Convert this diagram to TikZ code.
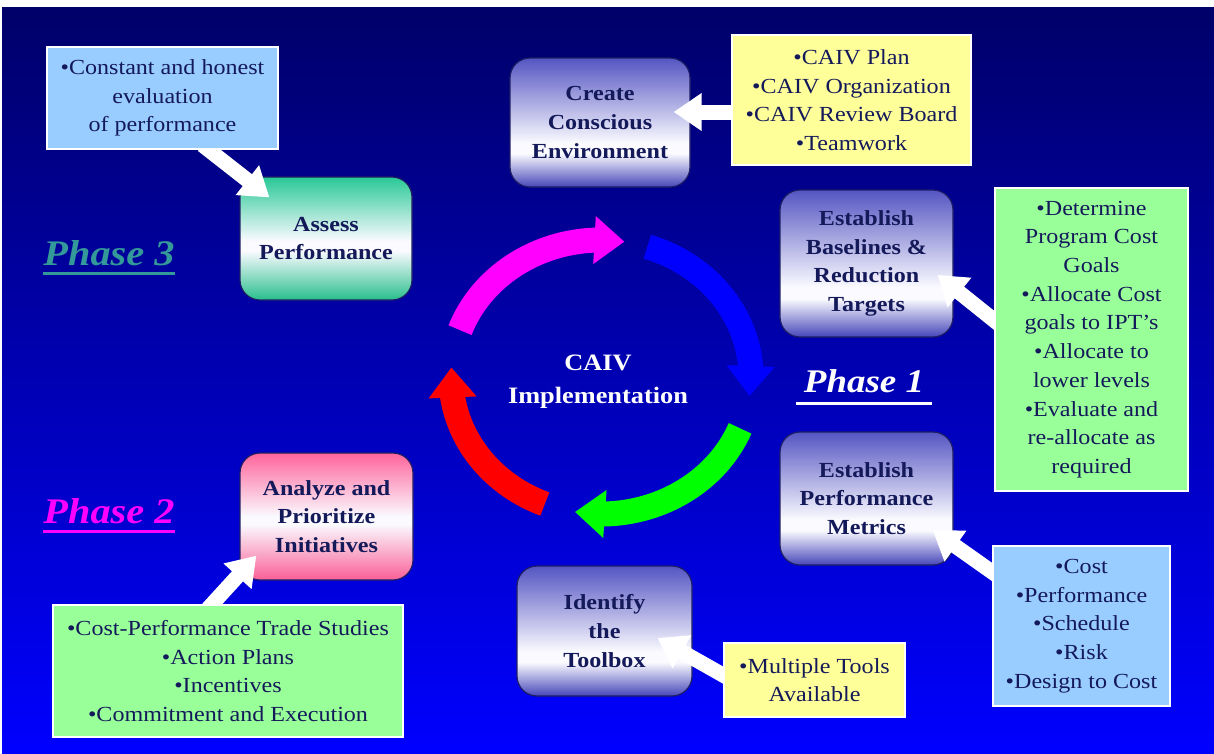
\documentclass[tikz,border=0pt]{standalone}
\usepackage{fontspec}
\setmainfont{Liberation Serif}[FakeStretch=1.12]
\usetikzlibrary{arrows.meta,calc,bending}
\definecolor{navytxt}{RGB}{20,25,90}
\definecolor{bgtop}{RGB}{0,0,105}
\definecolor{bgmid}{RGB}{0,0,205}
\definecolor{bgbot}{RGB}{0,0,255}
\definecolor{lblue}{RGB}{153,204,255}
\definecolor{lyellow}{RGB}{255,255,153}
\definecolor{lgreen}{RGB}{153,255,153}
\definecolor{bluetop}{RGB}{85,85,195}
\definecolor{bluebot}{RGB}{70,70,185}
\definecolor{pinktop}{RGB}{255,100,155}
\definecolor{pinkbot}{RGB}{250,95,150}
\definecolor{greentop}{RGB}{40,200,150}
\definecolor{greenbot}{RGB}{40,190,140}
\definecolor{peak}{RGB}{250,250,255}
\definecolor{teal3}{RGB}{51,153,153}
\definecolor{rimc}{RGB}{30,30,100}
\definecolor{ringmag}{RGB}{255,0,255}
\definecolor{ringblue}{RGB}{0,0,255}
\definecolor{ringgreen}{RGB}{0,255,0}
\definecolor{ringred}{RGB}{255,0,0}
\pgfdeclareverticalshading{bluebox}{100bp}{color(0bp)=(bluebot); color(25bp)=(bluebot); color(38bp)=(peak); color(42bp)=(peak); color(75bp)=(bluetop); color(100bp)=(bluetop)}
\pgfdeclareverticalshading{pinkbox}{100bp}{color(0bp)=(pinkbot); color(25bp)=(pinkbot); color(47bp)=(peak); color(50bp)=(peak); color(75bp)=(pinktop); color(100bp)=(pinktop)}
\pgfdeclareverticalshading{greenbox}{100bp}{color(0bp)=(greenbot); color(25bp)=(greenbot); color(45bp)=(peak); color(49bp)=(peak); color(75bp)=(greentop); color(100bp)=(greentop)}
\pgfdeclarelayer{back}
\pgfdeclarelayer{arr}
\pgfdeclarelayer{top}
\pgfsetlayers{back,main,arr,top}
\begin{document}
\begin{tikzpicture}[x=1pt,y=-1pt,
  txt/.style={font=\fontsize{21.5}{28.7}\selectfont, text=navytxt, align=center, inner sep=0pt},
  rbox/.style={txt, font=\fontsize{21.5}{28.7}\selectfont\bfseries, rounded corners=20pt, draw=rimc, line width=1.2pt, shade, shading angle=0},
  sbox/.style={txt, draw=white, line width=2pt},
  wa/.style={draw=white, line width=15pt, -{Triangle[length=28pt,width=36pt]}},
  ring/.style={line width=25pt, -{Triangle[length=30pt,width=46pt]}},
  phase/.style={font=\fontsize{36}{42}\selectfont\bfseries\itshape, inner sep=0pt, anchor=base},
  uline/.style={line width=3pt}
]
\useasboundingbox (0,0) rectangle (1214,753);
\begin{pgfonlayer}{back}
\fill[white] (0,0) rectangle (1214,753);
\shade[top color=bgtop, middle color=bgmid, bottom color=bgbot] (2,7) rectangle (1214,753);
\end{pgfonlayer}

% rounded step boxes
\node[rbox, shading=bluebox, minimum width=180pt, minimum height=129pt] (create) at (600,122.5) {Create\\Conscious\\Environment};
\node[rbox, shading=bluebox, minimum width=173pt, minimum height=147pt] (base) at (866.5,263.5) {Establish\\Baselines \&\\Reduction\\Targets};
\node[rbox, shading=bluebox, minimum width=173pt, minimum height=133pt] (metrics) at (866.5,498.5) {Establish\\Performance\\Metrics};
\node[rbox, shading=bluebox, minimum width=175pt, minimum height=130pt] (toolbox) at (604.5,631) {Identify\\the\\Toolbox};
\node[rbox, shading=pinkbox, minimum width=173pt, minimum height=127pt] (analyze) at (326.5,516.5) {Analyze and\\Prioritize\\Initiatives};
\node[rbox, shading=greenbox, minimum width=172pt, minimum height=123pt] (assess) at (326,238.5) {Assess\\Performance};

% source boxes
\begin{pgfonlayer}{top}
\node[sbox, fill=lblue, minimum width=231pt, minimum height=102pt] (eval) at (162.5,98) {•Constant and honest\\evaluation\\of performance};
\node[sbox, fill=lyellow, minimum width=239pt, minimum height=130pt] (yplan) at (851.5,100) {•CAIV Plan\\•CAIV Organization\\•CAIV Review Board\\•Teamwork};
\node[sbox, fill=lgreen, minimum width=193pt, minimum height=303pt] (greenR) at (1091.5,339.5) {•Determine\\Program Cost\\Goals\\•Allocate Cost\\goals to IPT’s\\•Allocate to\\lower levels\\•Evaluate and\\re-allocate as\\required};
\node[sbox, fill=lblue, minimum width=177pt, minimum height=160pt] (lbR) at (1081.5,626) {•Cost\\•Performance\\•Schedule\\•Risk\\•Design to Cost};
\node[sbox, fill=lyellow, minimum width=181pt, minimum height=74pt] (ytools) at (814.5,680) {•Multiple Tools\\Available};
\node[sbox, fill=lgreen, minimum width=350pt, minimum height=132pt] (greenL) at (228,671) {•Cost-Performance Trade Studies\\•Action Plans\\•Incentives\\•Commitment and Execution};
\end{pgfonlayer}

% white arrows
\begin{pgfonlayer}{arr}
\draw[wa] ([xshift=40pt,yshift=5pt]eval.south) -- ([xshift=30pt,yshift=-21pt]assess.north west);
\draw[wa] ([xshift=13pt,yshift=-12pt]yplan.west) -- ([xshift=-17pt,yshift=10.5pt]create.east);
\draw[wa] ([xshift=11.5pt,yshift=10pt]greenR.west) -- ([xshift=-16pt,yshift=-11.5pt]base.east);
\draw[wa] ([xshift=10pt,yshift=47pt]lbR.west) -- ([xshift=-21pt,yshift=-31.5pt]metrics.east);
\draw[wa] ([xshift=10.5pt,yshift=-1pt]ytools.west) -- ([xshift=-35pt,yshift=-7pt]toolbox.east);
\draw[wa] ([xshift=-24pt,yshift=-9pt]greenL.north) -- ([xshift=17pt,yshift=25pt]analyze.south west);
\end{pgfonlayer}

% central cycle
\coordinate (c) at (601,377);
\draw[ring, ringmag] ([shift={(200:150 and 137)}]c) arc[start angle=200, end angle=279, x radius=150, y radius=137];
\draw[ring, ringblue] ([shift={(288:150 and 137)}]c) arc[start angle=288, end angle=368, x radius=150, y radius=137];
\draw[ring, ringgreen] ([shift={(22:150 and 137)}]c) arc[start angle=22, end angle=100, x radius=150, y radius=137];
\draw[ring, ringred] ([shift={(112:150 and 137)}]c) arc[start angle=112, end angle=184, x radius=150, y radius=137];
\node[font=\fontsize{23.5}{33}\selectfont\bfseries, text=white, align=center, inner sep=0pt] (title) at (598,382) {CAIV\\Implementation};

% phase labels
\node[phase, font=\fontsize{33}{40}\selectfont\bfseries\itshape, text=white] (ph1) at (864,392) {Phase 1};
\draw[uline, white] ([xshift=-8pt,yshift=-11pt]ph1.base west) -- ([xshift=8pt,yshift=-11pt]ph1.base east);
\node[phase, text=ringmag] (ph2) at (109,523) {Phase 2};
\draw[uline, ringmag] ([yshift=-8pt]ph2.base west) -- ([yshift=-8pt]ph2.base east);
\node[phase, text=teal3] (ph3) at (109,265) {Phase 3};
\draw[uline, teal3] ([yshift=-8pt]ph3.base west) -- ([yshift=-8pt]ph3.base east);
\end{tikzpicture}
\end{document}
